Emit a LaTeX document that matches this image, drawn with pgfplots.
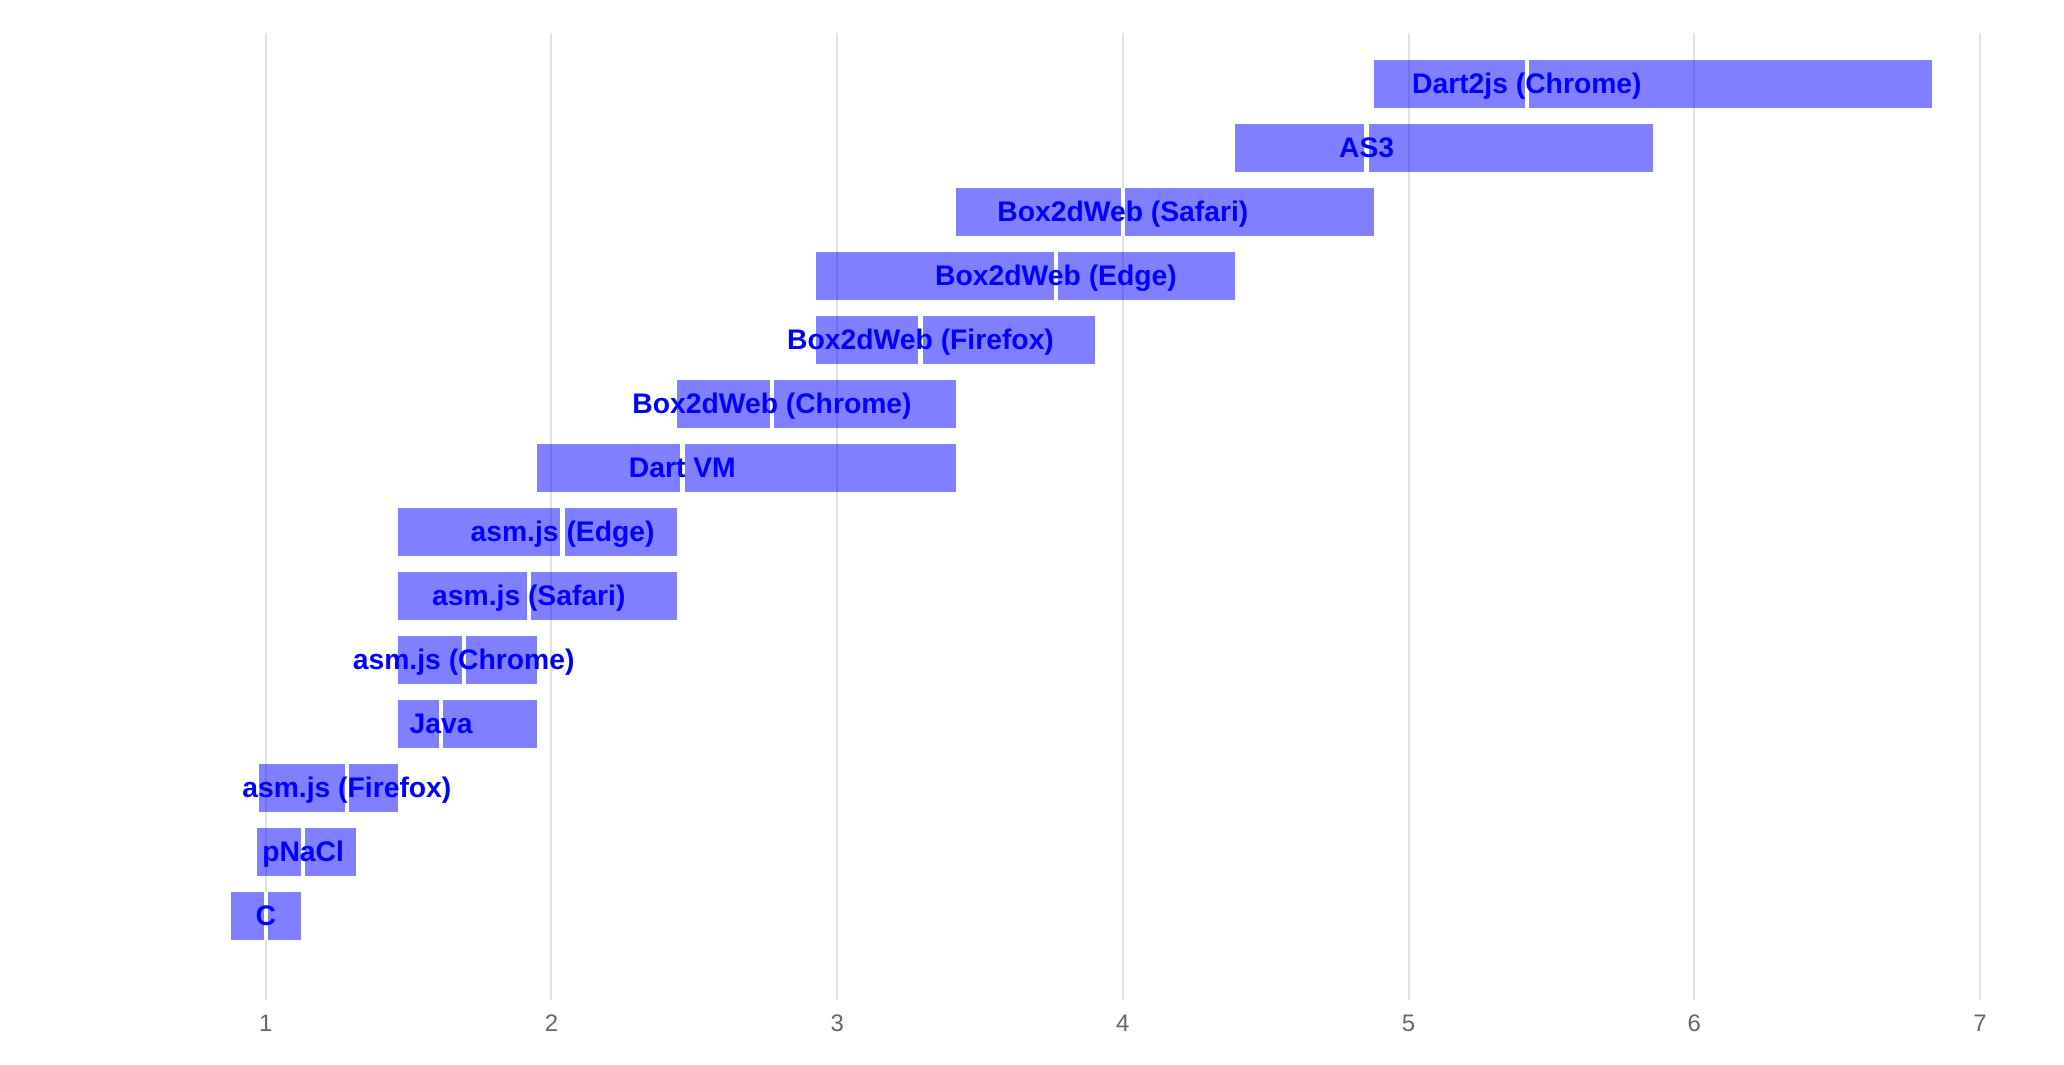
\documentclass[border=0pt]{standalone}
\usepackage{fontspec}
\setmainfont{Liberation Sans}
\usepackage{pgfplots}
\pgfplotsset{compat=1.18}
\usepackage{pgfplotstable}
\usepgfplotslibrary{statistics}
\definecolor{gridgray}{HTML}{E2E2E2}
\definecolor{tickgray}{HTML}{666666}
\pgfplotstableread{
x y label
1.000 0 {C}
1.131 1 {pNaCl}
1.284 2 {asm.js (Firefox)}
1.614 3 {Java}
1.693 4 {asm.js (Chrome)}
1.921 5 {asm.js (Safari)}
2.039 6 {asm.js (Edge)}
2.458 7 {Dart VM}
2.772 8 {Box2dWeb (Chrome)}
3.292 9 {Box2dWeb (Firefox)}
3.766 10 {Box2dWeb (Edge)}
4.000 11 {Box2dWeb (Safari)}
4.853 12 {AS3}
5.414 13 {Dart2js (Chrome)}
}\labels
\newcommand{\bx}[4]{%
\addplot[draw=none, boxplot prepared={lower whisker=#1, lower quartile=#1, median=#2, upper quartile=#3, upper whisker=#3, draw position=#4}] coordinates {};}
\begin{document}
\begin{tikzpicture}
\begin{axis}[
  at={(0cm,0.64cm)}, anchor=south west,
  scale only axis, width=20.64cm, height=9.67cm,
  xmin=0.070, xmax=7.294, ymin=-1.3125, ymax=13.797,
  axis line style={draw=none}, major tick length=0pt,
  xtick={1,2,3,4,5,6,7}, ytick=\empty,
  xmajorgrids, grid style={color=gridgray, line width=0.02cm},
  /pgf/number format/assume math mode=true,
  xticklabel style={font=\fontsize{6.8}{8}\selectfont, text=tickgray, inner sep=0pt, anchor=north, yshift=-0.145cm},
  boxplot/box extend=0.75,
  boxplot/every box/.style={draw=none, fill=blue, fill opacity=0.5},
  boxplot/every whisker/.style={draw=none},
  boxplot/every median/.style={draw=white, line width=0.044cm},
  clip=false,
]
\bx{0.879}{1.000}{1.123}{0}
\bx{0.970}{1.131}{1.317}{1}
\bx{0.975}{1.284}{1.463}{2}
\bx{1.462}{1.614}{1.950}{3}
\bx{1.462}{1.693}{1.950}{4}
\bx{1.462}{1.921}{2.440}{5}
\bx{1.462}{2.039}{2.440}{6}
\bx{1.950}{2.458}{3.416}{7}
\bx{2.440}{2.772}{3.416}{8}
\bx{2.927}{3.292}{3.903}{9}
\bx{2.927}{3.766}{4.391}{10}
\bx{3.416}{4.000}{4.878}{11}
\bx{4.391}{4.853}{5.855}{12}
\bx{4.878}{5.414}{6.831}{13}
\addplot[only marks, mark=none, nodes near coords, point meta=explicit symbolic,
  every node near coord/.style={font=\fontsize{8.05}{9}\selectfont\bfseries, text=blue, anchor=base, inner sep=0pt, yshift=-0.099cm}]
  table[x=x, y=y, meta=label] {\labels};
\end{axis}
\pgfresetboundingbox
\useasboundingbox (0,0) rectangle (20.64cm,10.64cm);
\end{tikzpicture}
\end{document}
